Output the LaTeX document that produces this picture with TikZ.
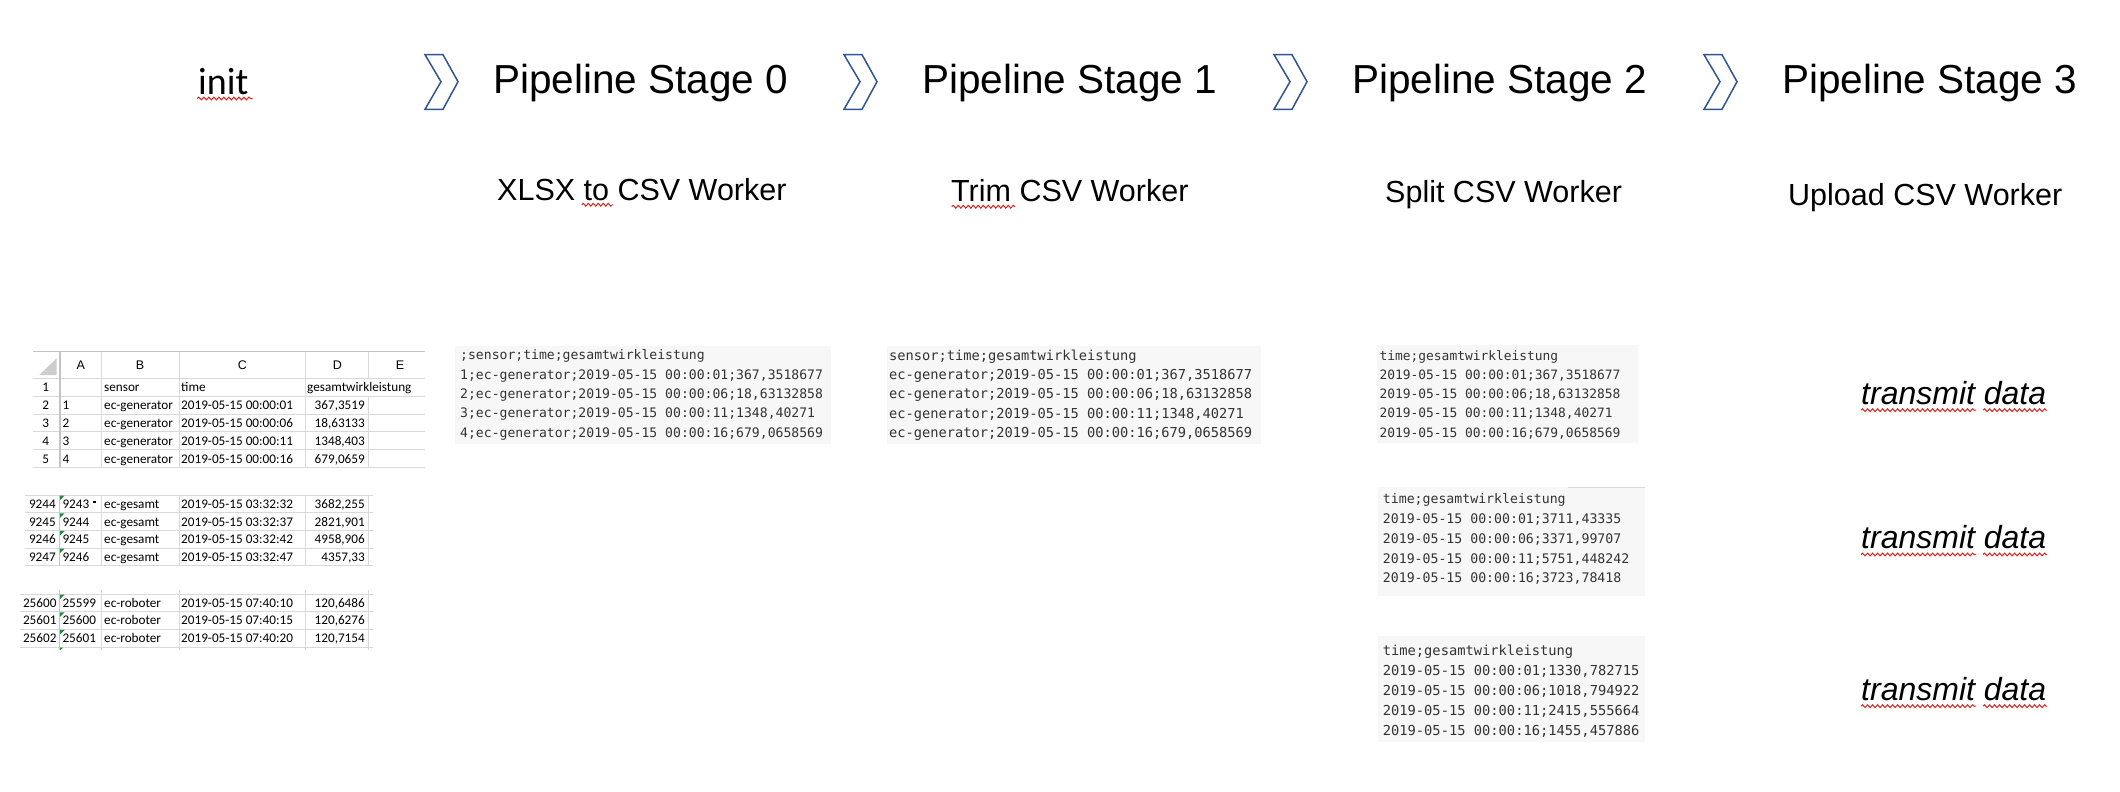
\documentclass[tikz,border=0pt]{standalone}
\usepackage{fontspec}
\setmainfont{Liberation Sans}
\newfontfamily\sheetfont{Carlito}
\newfontfamily\csvmono{DejaVu Sans Mono}
\usetikzlibrary{decorations.pathmorphing}
\definecolor{chev}{HTML}{2F5597}
\definecolor{csvbg}{HTML}{F7F7F7}
\definecolor{csvtxt}{HTML}{333333}
\definecolor{gridc}{HTML}{D9D9D9}
\definecolor{gridd}{HTML}{C4C4C4}
\definecolor{xlgreen}{HTML}{1E8C3A}
\definecolor{spell}{HTML}{E3231B}
\tikzset{
  chevron/.style={draw=chev, line width=1.5pt, fill=white, line join=miter},
  heading/.style={inner sep=0pt, anchor=base west, font=\fontsize{40.5}{48}\selectfont},
  subheading/.style={inner sep=0pt, anchor=base west, font=\fontsize{30.5}{36}\selectfont},
  csvbox/.style={fill=csvbg, draw=none, inner sep=0pt, outer sep=0pt, anchor=north west},
  csvtext/.style={inner sep=0pt, anchor=base west, text=csvtxt},
  spellwave/.style={draw=spell, line width=1pt, decorate, decoration={snake, amplitude=1.4pt, segment length=5pt}},
  sheetcell/.style={inner sep=0pt, anchor=base west, font=\fontsize{13.2}{16}\sheetfont},
  sheetcellr/.style={inner sep=0pt, anchor=base east, font=\fontsize{13.2}{16}\sheetfont},
  sheetcellc/.style={inner sep=0pt, anchor=base, font=\fontsize{13.2}{16}\sheetfont},
  colhead/.style={inner sep=0pt, anchor=base, font=\fontsize{12.5}{15}\selectfont},
  gridline/.style={draw=gridc, line width=1pt},
  gridheavy/.style={draw=gridd, line width=1.3pt},
  transmitlbl/.style={inner sep=0pt, anchor=base west, font=\fontsize{32}{38}\selectfont\itshape},
  errmark/.style={fill=xlgreen, draw=none},
}
\begin{document}
\begin{tikzpicture}[x=1pt, y=-1pt]
\useasboundingbox (0,0) rectangle (2120,792);
\fill[white] (0,0) rectangle (2120,792);

% ---------- header row ----------
\node[inner sep=0pt, anchor=base west, font=\fontsize{38}{44}\sheetfont] (init) at (198,94) {init};
\draw[spellwave] (197.3,98.5) -- (252.7,98.5);

\foreach \cx in {424,843,1273,1703} {
  \draw[chevron] (\cx+1,54.7) -- (\cx+19,54.7) -- (\cx+34,81.7) -- (\cx+19,109.3) -- (\cx+1,109.3) -- (\cx+17,81.7) -- cycle;
}

\node[heading] (h0) at (493,93.3) {Pipeline Stage 0};
\node[heading] (h1) at (922,93.3) {Pipeline Stage 1};
\node[heading] (h2) at (1352,93.3) {Pipeline Stage 2};
\node[heading] (h3) at (1782,93.3) {Pipeline Stage 3};

\node[subheading] (s0) at (497,200.7) {XLSX to CSV Worker};
\draw[spellwave] (581.7,204.7) -- (612.7,204.7);
\node[subheading] (s1) at (951,201.7) {Trim CSV Worker};
\draw[spellwave] (951.7,206.7) -- (1015,206.7);
\node[subheading] (s2) at (1385,202) {Split CSV Worker};
\node[subheading] (s3) at (1788,205) {Upload CSV Worker};

% ---------- spreadsheet (init) ----------
% top block
\draw[gridheavy] (33.3,351.7) -- (425,351.7);
\foreach \yy in {378.3,396,414,431.7,449.3,467.3} \draw[gridline] (33.3,\yy) -- (425,\yy);
\draw[gridheavy] (60,351.7) -- (60,467.3);
\foreach \xx in {101.7,179,305.3} \draw[gridline] (\xx,351.7) -- (\xx,467.3);
\draw[gridline] (368.3,351.7) -- (368.3,378.3);
\draw[gridline] (368.3,396) -- (368.3,467.3);
\fill[gridd!85] (39.3,375) -- (56.7,375) -- (56.7,358.3) -- cycle;

\foreach \t/\xx [count=\i] in {A/80.7,B/140,C/242.3,D/337.3,E/400}
  \node[colhead] (ch\i) at (\xx,369.8) {\t};

\foreach \yy [count=\i] in {391.6,409.6,427.3,445.3,463}
  \node[sheetcellc] (rn\i) at (45.7,\yy) {\i};

\node[sheetcell] (b1) at (104,391.6) {sensor};
\node[sheetcell] (c1) at (181,391.6) {time};
\node[sheetcell] (d1) at (307,391.6) {gesamtwirkleistung};
\foreach \a/\tm/\v/\yy [count=\i] in {1/00:00:01/{367,3519}/409.6, 2/00:00:06/{18,63133}/427.3, 3/00:00:11/{1348,403}/445.3, 4/00:00:16/{679,0659}/463} {
  \node[sheetcell] (ta\i) at (62.5,\yy) {\a};
  \node[sheetcell] (tb\i) at (104,\yy) {ec-generator};
  \node[sheetcell] (tc\i) at (181,\yy) {2019-05-15 \tm};
  \node[sheetcellr] (td\i) at (365,\yy) {\v};
}

% middle block
\foreach \yy in {495,512.7,530.3,548,565.7} \draw[gridline] (25,\yy) -- (372.7,\yy);
\draw[gridheavy] (59.3,495) -- (59.3,565.7);
\foreach \xx in {101.7,179,305.3,368.3} \draw[gridline] (\xx,495) -- (\xx,565.7);
\foreach \yy in {495,512.7,530.3,548} \fill[errmark] (60.2,\yy+0.6) -- (64.6,\yy+0.6) -- (60.2,\yy+5) -- cycle;
\foreach \r/\a/\tm/\v/\yy [count=\i] in {9244/9243/03:32:32/{3682,255}/508.3, 9245/9244/03:32:37/{2821,901}/526, 9246/9245/03:32:42/{4958,906}/543.6, 9247/9246/03:32:47/{4357,33}/561.3} {
  \node[sheetcellr] (mr\i) at (56,\yy) {\r};
  \node[sheetcell] (ma\i) at (62.3,\yy) {\a};
  \node[sheetcell] (mb\i) at (104,\yy) {ec-gesamt};
  \node[sheetcell] (mc\i) at (181,\yy) {2019-05-15 \tm};
  \node[sheetcellr] (md\i) at (365,\yy) {\v};
}
\fill[black] (93.2,501) rectangle (95.6,503.4);

% bottom block
\foreach \yy in {594,611.7,629.3,647} \draw[gridline] (20,\yy) -- (372.7,\yy);
\draw[gridheavy] (59.3,590) -- (59.3,650);
\foreach \xx in {101.7,179,305.3,368.3} \draw[gridline] (\xx,590) -- (\xx,650);
\foreach \yy in {594,611.7,629.3} \fill[errmark] (60.2,\yy+0.6) -- (64.6,\yy+0.6) -- (60.2,\yy+5) -- cycle;
\fill[errmark] (60.2,647.6) -- (63.2,647.6) -- (60.2,650) -- cycle;
\foreach \r/\a/\tm/\v/\yy [count=\i] in {25600/25599/07:40:10/{120,6486}/607, 25601/25600/07:40:15/{120,6276}/624.6, 25602/25601/07:40:20/{120,7154}/642.6} {
  \node[sheetcellr] (br\i) at (56.7,\yy) {\r};
  \node[sheetcell] (ba\i) at (62.3,\yy) {\a};
  \node[sheetcell] (bb\i) at (104,\yy) {ec-roboter};
  \node[sheetcell] (bc\i) at (181,\yy) {2019-05-15 \tm};
  \node[sheetcellr] (bd\i) at (365,\yy) {\v};
}

% ---------- CSV boxes ----------
\node[csvbox, minimum width=376pt, minimum height=98pt] (box0) at (455,346) {};
\node[csvtext, font=\fontsize{13.1}{19.4}\csvmono] (csv0) at (460,359.7) {\begin{tabular}[t]{@{}l@{}}
;sensor;time;gesamtwirkleistung\\
1;ec-generator;2019-05-15 00:00:01;367,3518677\\
2;ec-generator;2019-05-15 00:00:06;18,63132858\\
3;ec-generator;2019-05-15 00:00:11;1348,40271\\
4;ec-generator;2019-05-15 00:00:16;679,0658569
\end{tabular}};

\node[csvbox, minimum width=374pt, minimum height=98pt] (box1) at (886.7,346) {};
\node[csvtext, font=\fontsize{13.7}{19.4}\csvmono] (csv1) at (889,360) {\begin{tabular}[t]{@{}l@{}}
sensor;time;gesamtwirkleistung\\
ec-generator;2019-05-15 00:00:01;367,3518677\\
ec-generator;2019-05-15 00:00:06;18,63132858\\
ec-generator;2019-05-15 00:00:11;1348,40271\\
ec-generator;2019-05-15 00:00:16;679,0658569
\end{tabular}};

\node[csvbox, minimum width=261.6pt, minimum height=98.3pt] (box2a) at (1376.7,345) {};
\node[csvtext, font=\fontsize{12.9}{19.15}\csvmono] (csv2a) at (1379.4,360.4) {\begin{tabular}[t]{@{}l@{}}
time;gesamtwirkleistung\\
2019-05-15 00:00:01;367,3518677\\
2019-05-15 00:00:06;18,63132858\\
2019-05-15 00:00:11;1348,40271\\
2019-05-15 00:00:16;679,0658569
\end{tabular}};

\node[csvbox, minimum width=266.7pt, minimum height=109.3pt] (box2b) at (1378.3,486.7) {};
\draw[draw=gridc, line width=0.8pt] (1568,487.3) -- (1645,487.3);
\node[csvtext, font=\fontsize{13.2}{19.75}\csvmono] (csv2b) at (1382.7,503.8) {\begin{tabular}[t]{@{}l@{}}
time;gesamtwirkleistung\\
2019-05-15 00:00:01;3711,43335\\
2019-05-15 00:00:06;3371,99707\\
2019-05-15 00:00:11;5751,448242\\
2019-05-15 00:00:16;3723,78418
\end{tabular}};

\node[csvbox, minimum width=267pt, minimum height=105.7pt] (box2c) at (1378,636) {};
\node[csvtext, font=\fontsize{13.75}{20.2}\csvmono] (csv2c) at (1382.6,655) {\begin{tabular}[t]{@{}l@{}}
time;gesamtwirkleistung\\
2019-05-15 00:00:01;1330,782715\\
2019-05-15 00:00:06;1018,794922\\
2019-05-15 00:00:11;2415,555664\\
2019-05-15 00:00:16;1455,457886
\end{tabular}};

% ---------- transmit data ----------
\foreach \yy [count=\i] in {404,548.3,700} {
  \node[transmitlbl] (tx\i) at (1861,\yy) {transmit data};
  \draw[spellwave] (1861,\yy+6.2) -- (1976,\yy+6.2);
  \draw[spellwave] (1983,\yy+6.2) -- (2047,\yy+6.2);
}
\end{tikzpicture}
\end{document}
